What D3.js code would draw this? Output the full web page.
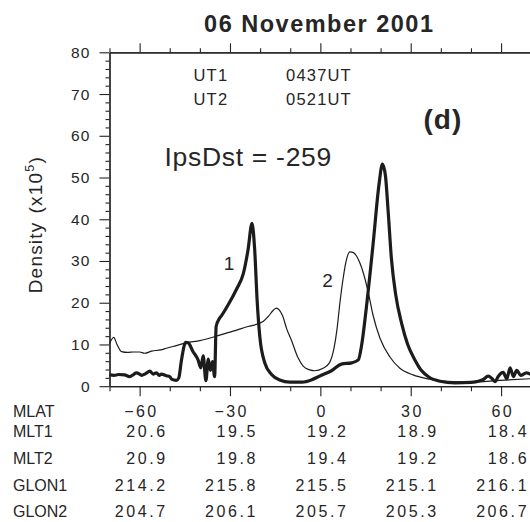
<!DOCTYPE html>
<html>
<head>
<meta charset="utf-8">
<script src="https://cdn.jsdelivr.net/npm/d3@7"></script>
<style>
  html, body { margin: 0; padding: 0; background: #fff; }
  svg { display: block; font-family: "Liberation Sans", Arial, Helvetica, sans-serif; }
  .axis .domain { stroke: #222; stroke-width: 1.2; }
  .axis .tick line { stroke: #222; stroke-width: 1.1; }
</style>
</head>
<body>
<svg id="chart" width="530" height="522"></svg>
<script>
// Orbit 1 (0437 UT): electron density vs magnetic latitude
const lat1 = [-70.0, -68.5, -67.0, -65.0, -63.3, -62.0, -61.1, -60.0, -59.4, -58.0,
  -56.6, -55.5, -54.4, -53.5, -52.8, -51.1, -50.0, -49.4, -47.8, -47.0,
  -46.1, -44.7, -43.9, -42.3, -40.6, -39.7, -38.9, -38.0, -37.2, -36.5,
  -35.8, -35.1, -34.6, -33.6, -32.8, -30.6, -27.8, -25.6, -24.0, -22.7,
  -21.8, -21.0, -20.1, -18.4, -16.2, -13.5, -10.1, -6.0, -3.0, 0.0,
  3.7, 7.0, 10.4, 12.6, 13.7, 15.3, 17.5, 19.5, 20.6, 21.6,
  22.5, 23.6, 25.0, 27.0, 29.0, 31.4, 33.5, 36.0, 39.7, 44.7,
  50.0, 51.9, 54.1, 55.7, 56.9, 58.0, 59.1, 60.7, 61.9, 63.0,
  64.1, 65.2, 66.5, 68.4, 70.0];
const dens1 = [2.7, 2.6, 2.8, 2.7, 2.3, 2.8, 3.2, 2.9, 2.6, 3.0,
  3.6, 2.9, 3.2, 2.6, 2.9, 2.5, 2.3, 1.7, 1.4, 2.0,
  6.3, 10.5, 10.4, 8.3, 6.3, 4.4, 7.3, 1.3, 6.5, 3.8,
  5.9, 2.3, 14.3, 16.1, 16.9, 19.5, 23.3, 26.9, 32.7, 39.0,
  32.7, 20.7, 11.9, 5.5, 2.8, 1.5, 1.0, 1.0, 1.5, 2.5,
  3.7, 5.3, 5.6, 6.3, 9.8, 19.0, 34.0, 48.5, 53.2, 50.5,
  42.0, 30.5, 22.0, 15.0, 10.0, 6.3, 3.8, 2.2, 1.2, 0.8,
  0.9, 1.1, 1.6, 2.4, 1.9, 1.1, 2.4, 3.3, 1.8, 4.4,
  2.3, 3.8, 2.6, 3.2, 2.8];

// Orbit 2 (0521 UT)
const lat2 = [-70.0, -68.6, -67.5, -66.0, -64.0, -62.0, -60.0, -58.3, -56.0, -53.0,
  -51.1, -47.5, -44.5, -40.0, -34.0, -29.0, -24.0, -19.0, -17.3, -15.6,
  -14.6, -13.6, -12.5, -11.2, -9.6, -7.4, -5.7, -3.5, -2.0, 0.9,
  3.0, 4.5, 5.5, 6.5, 7.5, 8.5, 9.8, 11.0, 12.0, 13.2,
  14.2, 15.9, 17.5, 19.8, 23.1, 26.4, 30.8, 35.3, 40.8, 50.0,
  59.6, 70.0];
const dens2 = [10.2, 11.7, 10.0, 8.3, 8.1, 8.2, 8.2, 7.9, 8.4, 8.7,
  9.1, 9.8, 10.4, 10.9, 12.1, 13.2, 14.3, 15.5, 16.7, 18.2,
  18.7, 18.2, 16.8, 13.8, 11.0, 6.8, 4.8, 3.9, 3.7, 4.3,
  5.6, 9.0, 13.5, 20.0, 25.5, 29.8, 32.2, 32.0, 31.2, 29.4,
  27.3, 22.5, 17.0, 11.5, 7.0, 4.3, 2.7, 1.8, 1.2, 1.0,
  1.4, 1.8];

// Axis ticks and the coordinate table under the x axis
const densTicks = [0, 10, 20, 30, 40, 50, 60, 70, 80];
const mlatTicks = [-60, -30, 0, 30, 60];
const rowNames = ["MLAT", "MLT1", "MLT2", "GLON1", "GLON2"];
const mlt1 = ["20.6", "19.5", "19.2", "18.9", "18.4"];
const mlt2 = ["20.9", "19.8", "19.4", "19.2", "18.6"];
const glon1 = ["214.2", "215.8", "215.5", "215.1", "216.1"];
const glon2 = ["204.7", "206.1", "205.7", "205.3", "206.7"];

const ink = "#262626";
const svg = d3.select("#chart");

const x = d3.scaleLinear().domain([-70, 70]).range([109.5, 531.2]);
const y = d3.scaleLinear().domain([0, 80]).range([386.2, 52.3]);

const minorX = d3.range(-70, 71, 10).filter(v => !mlatTicks.includes(v));
const minorY = d3.range(0, 81, 2).filter(v => v % 10 !== 0);

// ---- frame and ticks ----
const yBottom = y(0), yTop = y(80), xLeft = x(-70), xRight = x(70);

svg.append("g").attr("class", "axis").attr("transform", `translate(0,${yBottom})`)
  .call(d3.axisBottom(x).tickValues(minorX).tickSize(5).tickSizeOuter(0).tickFormat(""));
const bx = svg.append("g").attr("class", "axis").attr("transform", `translate(0,${yBottom})`)
  .call(d3.axisBottom(x).tickValues(mlatTicks).tickSize(10).tickSizeOuter(0));
bx.selectAll("text")
  .attr("y", 417 - yBottom).attr("dy", 0).attr("dx", 1.2)
  .attr("fill", ink).style("font-size", "16px").style("letter-spacing", "2.4px")
  .style("font-family", "Liberation Sans, Arial, sans-serif");

svg.append("g").attr("class", "axis").attr("transform", `translate(0,${yTop})`)
  .call(d3.axisTop(x).tickValues(minorX).tickSize(4).tickSizeOuter(0).tickFormat(""));
svg.append("g").attr("class", "axis").attr("transform", `translate(0,${yTop})`)
  .call(d3.axisTop(x).tickValues(mlatTicks).tickSize(9).tickSizeOuter(0).tickFormat(""));

svg.append("g").attr("class", "axis").attr("transform", `translate(${xLeft},0)`)
  .call(d3.axisLeft(y).tickValues(minorY).tickSize(4).tickSizeOuter(0).tickFormat(""));
const ly = svg.append("g").attr("class", "axis").attr("transform", `translate(${xLeft},0)`)
  .call(d3.axisLeft(y).tickValues(densTicks).tickSize(10).tickPadding(8.8).tickSizeOuter(0));
ly.selectAll("text")
  .attr("fill", ink).style("font-size", "15.5px").style("letter-spacing", "1.2px")
  .style("font-family", "Liberation Sans, Arial, sans-serif");

svg.append("g").attr("class", "axis").attr("transform", `translate(${xRight},0)`)
  .call(d3.axisRight(y).tickValues(densTicks).tickSize(0).tickSizeOuter(0).tickFormat(""));

// ---- density curves ----
const line = d3.line().curve(d3.curveMonotoneX);
const pts1 = lat1.map((v, i) => [x(v), y(dens1[i])]);
const pts2 = lat2.map((v, i) => [x(v), y(dens2[i])]);

svg.append("path").attr("d", line(pts2))
  .attr("fill", "none").attr("stroke", "#1c1c1c").attr("stroke-width", 1.2)
  .attr("stroke-linejoin", "round");
svg.append("path").attr("d", line(pts1))
  .attr("fill", "none").attr("stroke", "#1c1c1c").attr("stroke-width", 3.2)
  .attr("stroke-linejoin", "round");

// ---- texts ----
svg.append("text").attr("x", 319.3).attr("y", 32).attr("text-anchor", "middle")
  .attr("fill", ink).style("font-size", "23.5px").style("font-weight", "bold")
  .style("letter-spacing", "1.5px").text("06 November 2001");

const small = { "font-size": "16.5px", "letter-spacing": "1.2px" };
function label(tx, ty, str, styles, anchor) {
  const t = svg.append("text").attr("x", tx).attr("y", ty).attr("fill", ink)
    .attr("text-anchor", anchor || "start").text(str);
  Object.entries(styles).forEach(([k, v]) => t.style(k, v));
  return t;
}
label(193.5, 81, "UT1", small);
label(286, 81, "0437UT", small);
label(193.5, 104.5, "UT2", small);
label(286, 104.5, "0521UT", small);

label(164.5, 166, "IpsDst = -259", { "font-size": "26.5px", "letter-spacing": "0.7px" });
label(423.5, 128.5, "(d)", { "font-size": "28px", "font-weight": "bold", "letter-spacing": "1px" });
label(229, 270, "1", { "font-size": "19px" }, "middle");
label(327.5, 286.7, "2", { "font-size": "19px" }, "middle");

// y axis title with superscript exponent
const yt = svg.append("text").attr("transform", "translate(42,293.3) rotate(-90)")
  .attr("fill", ink).style("font-size", "19px").style("letter-spacing", "1.2px");
yt.append("tspan").text("Density");
yt.append("tspan").attr("dx", 8).text("(x10");
yt.append("tspan").attr("dy", -8).style("font-size", "12.5px").text("5");
yt.append("tspan").attr("dy", 8).text(")");

// ---- coordinate table ----
const rowBase = [417, 437, 464, 491, 517];
const rowVals = [null, mlt1, mlt2, glon1, glon2];
rowNames.forEach((name, r) => {
  label(13, rowBase[r], name, { "font-size": "16px" });
  if (rowVals[r]) {
    rowVals[r].forEach((v, i) => {
      label(x(mlatTicks[i]) + 25.5 + 2.6, rowBase[r], v,
        { "font-size": "16px", "letter-spacing": "2.6px" }, "end");
    });
  }
});
</script>
</body>
</html>
